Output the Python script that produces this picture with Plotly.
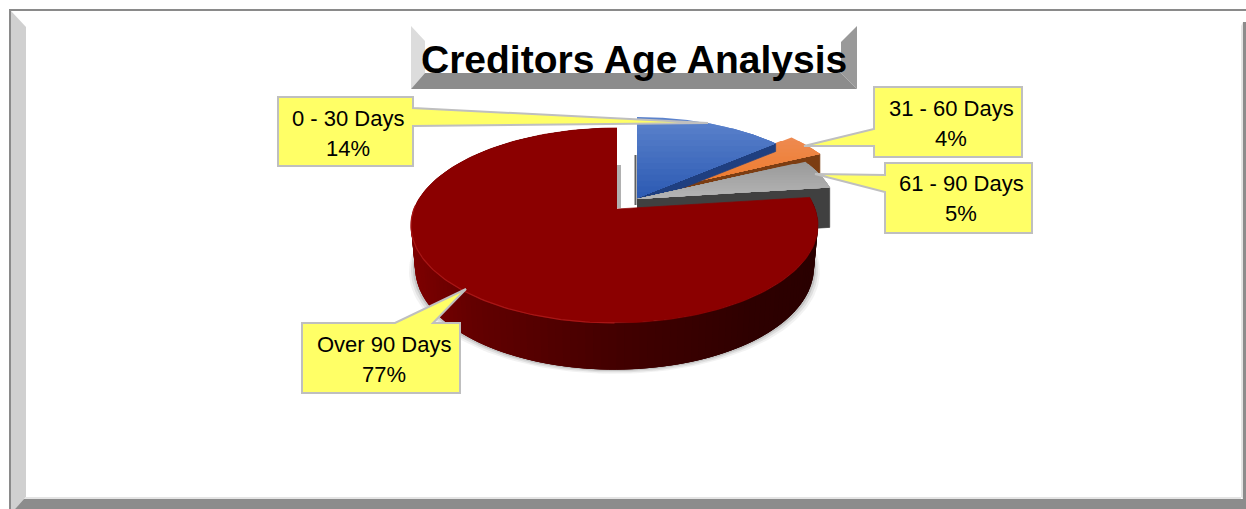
import numpy as np
import plotly.graph_objects as go

# Chart data
categories = ["0 - 30 Days", "31 - 60 Days", "61 - 90 Days", "Over 90 Days"]
values = [14, 4, 5, 77]

# pie drawing: projection of the tilted disc onto the page (page pixels)
CX, CY = 617, 209
A, B, K = 200.6, 94.7, 0.169
DEPTH_SCALE = 0.98

explode = [(20, -11), (35, -17.5), (20, -10), (0, 0)]
top_colors = [("#5b82cc", "#2e5cb4"), ("#ee8a50", "#f07a28"),
              ("#9a9a9a", "#b4b4b4"), ("#8b0000", "#8b0000")]
cut_colors = ["#1f3f80", "#7c3d12", "#404040", "#400000"]
cut_depth = [8, 20, 40, 47]
draw_order = [1, 0, 2, 3]

RED_X = [411, 470, 617, 750, 818]
RED_R = [126, 100, 67, 47, 42]


def skew(v):
    return -2.5 * np.minimum(1, 1 - v)


def to_top(t):
    u, v = np.sin(t), np.cos(t)
    w = 1 + K * v
    return CX + A * u / w + skew(v), CY - B * v / w


def to_bottom(t):
    u, v = np.sin(t), np.cos(t)
    w = 1 + K * v
    return CX + DEPTH_SCALE * A * u / w + skew(v), CY - DEPTH_SCALE * B * v / w + 41 - 8 * v


def hex_rgb(c):
    return [int(c[i:i + 2], 16) for i in (1, 3, 5)]


def mix(c1, c2, f):
    a, b = hex_rgb(c1), hex_rgb(c2)
    return "rgb(%d,%d,%d)" % tuple(a[i] + (b[i] - a[i]) * f for i in range(3))


def clip_below(xs, ys, limit):
    # keep the part of a polygon under a horizontal line
    pts = list(zip(xs, ys))
    out = []
    for i in range(len(pts)):
        p, q = pts[i - 1], pts[i]
        pin, qin = p[1] >= limit, q[1] >= limit
        if pin != qin:
            f = (limit - p[1]) / (q[1] - p[1])
            out.append((p[0] + (q[0] - p[0]) * f, limit))
        if qin:
            out.append(q)
    return [p[0] for p in out], [p[1] for p in out]


fig = go.Figure()


def poly(xs, ys, color, line=0.0):
    fig.add_trace(go.Scatter(
        x=list(xs), y=list(ys), mode="lines", fill="toself", fillcolor=color,
        line=dict(color=color, width=line),
        hoverinfo="skip", showlegend=False))


# slice angles, clockwise from twelve o'clock
edges = np.radians(np.cumsum([0] + values) * 3.6)

# soft shadow round the foot of the big slice
for grow, alpha in ((6, 0.08), (4, 0.12), (2, 0.2)):
    t = np.linspace(np.pi * 0.5, np.pi * 1.5, 120)
    bx, by = to_bottom(t)
    poly(CX + (bx - CX) * (1 + grow / 200), by + grow * 0.7, "rgba(90,90,90,%s)" % alpha)

# thin shadows along the gap behind the pulled out slices
fig.add_trace(go.Scatter(x=[635.5, 635.5], y=[155, 205], mode="lines",
                         line=dict(color="#606060", width=2), hoverinfo="skip", showlegend=False))
fig.add_trace(go.Scatter(x=[619, 619], y=[165, 208], mode="lines",
                         line=dict(color="#b0b0b0", width=4), hoverinfo="skip", showlegend=False))

for i in draw_order:
    t0, t1 = edges[i], edges[i + 1]
    ox, oy = explode[i]
    t = np.linspace(t0, t1, 160)
    ax, ay = to_top(t)
    sx = np.concatenate([[CX], ax]) + ox
    sy = np.concatenate([[CY], ay]) + oy

    if i == 3:
        # outer wall, shaded from left to right; each strip runs under the next one
        t_wall = np.linspace(t0, t1, 150)
        for k in range(len(t_wall) - 1):
            seg = t_wall[k:min(k + 4, len(t_wall))]
            xa, ya = to_top(seg)
            xb, yb = to_bottom(seg)
            red = np.interp((xa[0] + xa[1]) / 2, RED_X, RED_R)
            poly(np.concatenate([xa, xb[::-1]]), np.concatenate([ya, yb[::-1]]),
                 "rgb(%d,0,0)" % red)
    else:
        # cut face at the clockwise end of the slice
        ex, ey = to_top(t1)
        d = cut_depth[i]
        poly([CX + ox, ex + ox, ex + ox, CX + ox],
             [CY + oy, ey + oy, ey + oy + d, CY + oy + d], cut_colors[i], line=0.7)

    # top surface, in horizontal bands when it has a gradient
    c0, c1 = top_colors[i]
    if c0 == c1:
        poly(sx, sy, c0, line=0.7)
    else:
        bands = np.linspace(sy.min(), sy.max(), 15)
        for k in range(14):
            bx, by = clip_below(sx, sy, bands[k])
            if bx:
                poly(bx, by, mix(c0, c1, k / 13))

# lighter rim on the front left of the big slice
rx, ry = to_top(np.linspace(np.radians(180), np.radians(272), 80))
fig.add_trace(go.Scatter(x=rx, y=ry, mode="lines", line=dict(color="#a81616", width=1.2),
                         hoverinfo="skip", showlegend=False))


def path(points):
    return "M " + " L ".join("%s %s" % p for p in points) + " Z"


def flat(points, color, layer="below"):
    return dict(type="path", path=path(points), fillcolor=color, line=dict(width=0), layer=layer)


# outer frame with bevel
shapes = [
    flat([(9, 9), (1246, 9), (1246, 11), (11, 11), (11, 509), (9, 509)], "#8a8a8a"),
    flat([(11, 11), (26, 27), (26, 497), (15, 509), (11, 509)], "#d0d0d0"),
    flat([(26, 497), (1241, 497), (1241, 499), (24, 499)], "#e4e4e4"),
    flat([(24, 499), (1246, 499), (1246, 509), (15, 509)], "#8c8c8c"),
    flat([(1243, 22), (1246, 22), (1246, 509), (1243, 509)], "#8c8c8c"),
    flat([(1241, 26), (1243, 22), (1243, 499), (1241, 497)], "#e4e4e4"),
    # title plate
    flat([(411, 26), (425, 41), (425, 73), (411, 89)], "#dcdcdc"),
    flat([(857, 26), (841, 42), (841, 73), (857, 89)], "#999999"),
    flat([(411, 89), (425, 73), (841, 73), (857, 89)], "#8c8c8c"),
]

# callouts: box with a pointer towards its slice
callouts = [
    [(278, 97), (413, 97), (413, 108), (708, 123), (413, 126), (413, 166), (278, 166)],
    [(874, 87), (1022, 87), (1022, 157), (874, 157), (874, 146), (804, 146), (874, 129)],
    [(885, 163), (1032, 163), (1032, 233), (885, 233), (885, 192), (815, 174), (885, 175)],
    [(302, 323), (395, 323), (466, 289), (433, 323), (460, 323), (460, 393), (302, 393)],
]
for pts in callouts:
    shapes.append(dict(type="path", path=path(pts), fillcolor="#ffff66",
                       line=dict(color="#bfbfbf", width=2), layer="above"))

label_x = [348, 951, 961, 384]
label_y = [118, 108, 183, 344]
annotations = []
for i in range(4):
    for text, dy in ((categories[i], 0), ("%d%%" % values[i], 30)):
        annotations.append(dict(
            x=label_x[i], y=label_y[i] + dy, text=text, showarrow=False,
            xanchor="center", yanchor="middle",
            font=dict(family="Liberation Sans", size=22, color="#000000")))
annotations.append(dict(x=634, y=59, text="<b>Creditors Age Analysis</b>", showarrow=False,
                        xanchor="center", yanchor="middle",
                        font=dict(family="Liberation Sans", size=39, color="#000000")))

fig.update_layout(
    width=1246, height=509,
    margin=dict(l=0, r=0, t=0, b=0),
    paper_bgcolor="#ffffff", plot_bgcolor="#ffffff",
    xaxis=dict(range=[0, 1246], visible=False, fixedrange=True),
    yaxis=dict(range=[509, 0], visible=False, fixedrange=True),
    shapes=shapes, annotations=annotations,
    showlegend=False,
)

fig.write_html("out.html", config=dict(displayModeBar=False),
               post_script="document.body.style.margin='0';")
